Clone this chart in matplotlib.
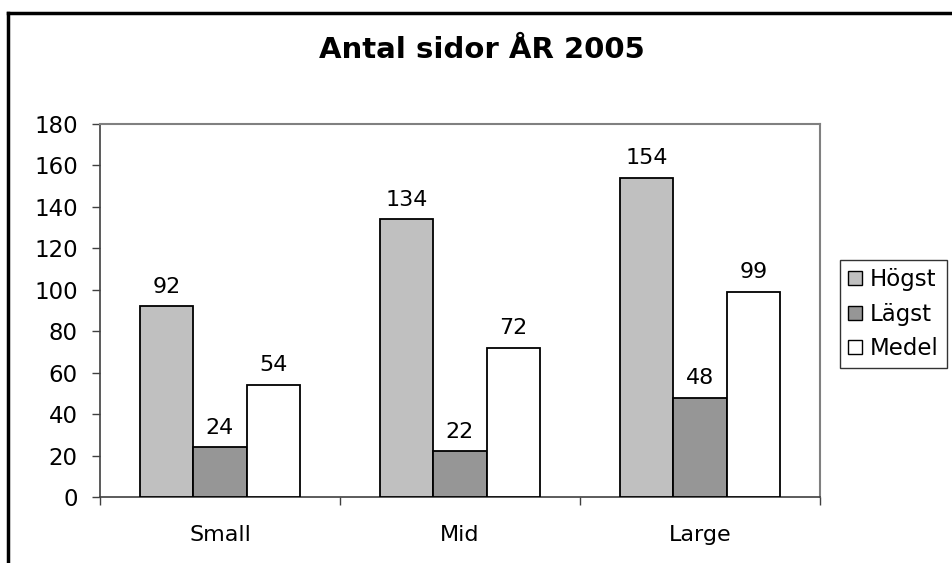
import matplotlib
matplotlib.use("Agg")
import matplotlib.pyplot as plt
from matplotlib.lines import Line2D
from matplotlib.patches import Patch
import numpy as np

categories = ["Small", "Mid", "Large"]
series_names = ["Högst", "Lägst", "Medel"]
hogst = [92, 134, 154]
lagst = [24, 22, 48]
medel = [54, 72, 99]
colors = ["#C0C0C0", "#969696", "#FFFFFF"]
yticks = [0, 20, 40, 60, 80, 100, 120, 140, 160, 180]
title = "Antal sidor ÅR 2005"

plt.rcParams['font.family'] = ['DejaVu Sans']

W, H = 952, 563
fig = plt.figure(figsize=(W / 100, H / 100), dpi=100)
ax = fig.add_axes([100 / W, 1 - 497 / H, (820 - 100) / W, (497 - 124) / H])

x = np.arange(len(categories))
bw = 2 / 9
series = [hogst, lagst, medel]
for i, (vals, col, name) in enumerate(zip(series, colors, series_names)):
    pos = x + (i - 1) * bw
    ax.bar(pos, vals, width=bw, color=col, edgecolor="black", linewidth=1.3, label=name, zorder=3)
    for p, v in zip(pos, vals):
        ax.annotate(str(v), (p, v), xytext=(0, 7), textcoords="offset points",
                    ha="center", va="bottom", fontsize=16)

ax.set_xlim(-0.5, 2.5)
ax.set_ylim(0, 180)
ax.set_yticks(yticks)
ax.set_yticklabels([str(t) for t in yticks], fontsize=16.5)
ax.tick_params(axis='y', length=6, width=1, color="#404040", pad=10)

ax.set_xticks([-0.5, 0.5, 1.5, 2.5])
ax.set_xticklabels([])
ax.set_xticks(x, minor=True)
ax.set_xticklabels(categories, minor=True, fontsize=16)
ax.tick_params(axis='x', which='major', length=6, width=1, color="#404040")
ax.tick_params(axis='x', which='minor', length=0, pad=20)

for s in ["top", "right"]:
    ax.spines[s].set_color("#808080")
    ax.spines[s].set_linewidth(1.5)
for s in ["left", "bottom"]:
    ax.spines[s].set_color("#404040")
    ax.spines[s].set_linewidth(1.2)

fig.text(482 / W, 1 - 50 / H, title, ha="center", va="center", fontsize=21, fontweight="bold")

handles = [Patch(facecolor=c, edgecolor="black", linewidth=1) for c in colors]
leg = fig.legend(handles, series_names, loc="upper left", bbox_to_anchor=(840 / W, 1 - 260 / H),
                 fontsize=16.5, frameon=True, fancybox=False, handlelength=0.57, handleheight=0.57,
                 handletextpad=0.35, borderpad=0.37, labelspacing=0.49, borderaxespad=0)
leg.get_frame().set_edgecolor("black")
leg.get_frame().set_linewidth(1)

fig.add_artist(Line2D([8 / W, 8 / W], [0, 1 - 13 / H], color="black", linewidth=2.5, transform=fig.transFigure))
fig.add_artist(Line2D([8 / W, 1], [1 - 13 / H, 1 - 13 / H], color="black", linewidth=2.5, transform=fig.transFigure))

fig.savefig("out.png", dpi=100)
